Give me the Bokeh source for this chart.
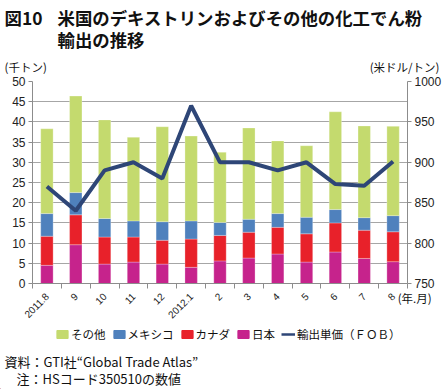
from math import pi
from bokeh.plotting import figure
from bokeh.layouts import column
from bokeh.models import (Range1d, LinearAxis, FixedTicker, Label, Legend,
                          LegendItem, ColumnDataSource)
from bokeh.embed import file_html
from bokeh.resources import INLINE

# ---- data ----
months = ["2011.8", "9", "10", "11", "12", "2012.1", "2", "3", "4", "5", "6", "7", "8"]
japan = [4.5, 9.6, 4.8, 5.3, 4.8, 4.0, 5.6, 6.3, 7.3, 5.3, 7.8, 6.2, 5.4]
canada = [7.2, 7.4, 6.7, 6.2, 5.9, 7.0, 6.3, 6.4, 6.6, 7.0, 7.2, 7.0, 7.4]
mexico = [5.6, 5.5, 4.6, 4.0, 4.6, 4.5, 3.2, 3.2, 3.4, 4.1, 3.3, 3.1, 4.0]
other = [21.0, 23.9, 24.4, 20.7, 23.5, 21.0, 17.4, 22.6, 18.0, 17.7, 24.2, 22.7, 22.1]
price = [870, 840, 890, 900, 880, 970, 900, 900, 890, 900, 873, 871, 901]
left_ticks = list(range(0, 51, 5))
right_ticks = list(range(750, 1001, 50))
series_names = ["その他", "メキシコ", "カナダ", "日本", "輸出単価（ＦＯＢ）"]

C_OTHER, C_MEX, C_CAN, C_JPN, C_LINE = "#C4DA6E", "#4F81BD", "#E8212A", "#C6238C", "#2E4677"
JP = "Noto Sans CJK JP"
NUM = "Liberation Sans"
GRAY = "#8C8C8C"

W, H = 444, 389
TOP_H = 74                 # title figure
FL, FW = 32, 376
FR = W - FL - FW
MT, FH, MB = 7, 202, 42    # main figure borders / frame
MAIN_H = MT + FH + MB
BOT_H = H - TOP_H - MAIN_H


def no_align(f):
    try:
        f.frame_align = False
    except Exception:
        pass


def text_fig(h):
    f = figure(width=W, height=h, x_range=Range1d(0, W), y_range=Range1d(0, h),
               output_backend="svg", toolbar_location=None, title=None,
               x_axis_location=None, y_axis_location=None,
               min_border=0, min_border_left=0, min_border_right=0,
               min_border_top=0, min_border_bottom=0)
    f.outline_line_color = None
    f.background_fill_color = "white"
    f.border_fill_color = "white"
    f.grid.visible = False
    f.axis.visible = False
    no_align(f)
    return f


def txt(f, h, cx, cy, s, size, bold=False, align="left", baseline="top"):
    f.add_layout(Label(x=cx, y=h - cy, x_units="screen", y_units="screen", text=s,
                       text_font=JP, text_font_size=size, text_baseline=baseline,
                       text_align=align, text_color="#111111",
                       text_font_style="bold" if bold else "normal"))


# ---------------- top: titles ----------------
top = text_fig(TOP_H)
txt(top, TOP_H, 4, 4, "図10", "17.4px", bold=True)
txt(top, TOP_H, 57, 4, "米国のデキストリンおよびその他の化工でん粉", "17.4px", bold=True)
txt(top, TOP_H, 57, 26, "輸出の推移", "17.4px", bold=True)
txt(top, TOP_H, 4, TOP_H, "(千トン)", "11.5px", baseline="bottom")
txt(top, TOP_H, 439, TOP_H, "(米ドル/トン)", "11.5px", align="right", baseline="bottom")

# ---------------- main chart ----------------
x = list(range(len(months)))
src = ColumnDataSource(dict(x=x, japan=japan, canada=canada, mexico=mexico,
                            other=other, price=price))

p = figure(width=W, height=MAIN_H, x_range=Range1d(-0.5, len(months) - 0.5),
           y_range=Range1d(0, 50), output_backend="svg", toolbar_location=None,
           title=None, min_border_left=FL, min_border_right=FR,
           min_border_top=MT, min_border_bottom=MB)
p.outline_line_color = None
no_align(p)
p.extra_y_ranges = {"price": Range1d(750, 1000)}

bars = p.vbar_stack(["japan", "canada", "mexico", "other"], x="x", width=0.43,
                    color=[C_JPN, C_CAN, C_MEX, C_OTHER], source=src,
                    line_color="white", line_alpha=0.35, line_width=0.8)
ln = p.line("x", "price", source=src, y_range_name="price",
            line_color=C_LINE, line_width=4)

p.xgrid.visible = False
p.ygrid.ticker = FixedTicker(ticks=left_ticks)
p.ygrid.grid_line_color = "#A6A6A6"


def style_y(ax):
    ax.axis_line_color = GRAY
    ax.major_tick_line_color = GRAY
    ax.major_tick_in = 0
    ax.major_tick_out = 4
    ax.minor_tick_line_color = None
    ax.major_label_standoff = 3
    ax.major_label_text_font = NUM
    ax.major_label_text_font_size = "12px"
    ax.major_label_text_color = "#222222"


ya = p.yaxis[0]
ya.ticker = FixedTicker(ticks=left_ticks)
style_y(ya)

ra = LinearAxis(y_range_name="price", ticker=FixedTicker(ticks=right_ticks))
style_y(ra)
p.add_layout(ra, "right")

xa = p.xaxis[0]
xa.ticker = FixedTicker(ticks=x, minor_ticks=[i - 0.5 for i in range(len(months) + 1)])
xa.major_label_overrides = {i: m for i, m in enumerate(months)}
xa.major_label_orientation = pi / 4
xa.major_tick_in = 0
xa.major_tick_out = 0
xa.minor_tick_in = 0
xa.minor_tick_out = 5
xa.minor_tick_line_color = GRAY
xa.axis_line_color = GRAY
xa.major_label_standoff = 6
xa.major_label_text_font = NUM
xa.major_label_text_font_size = "10px"
xa.major_label_text_color = "#222222"

# unit label of the category axis, at the right end of the axis
unit_tick = len(months) - 0.55
ua = LinearAxis(ticker=FixedTicker(ticks=[unit_tick]))
ua.major_label_overrides = {unit_tick: "\u3000\u2002(年.月)"}
ua.axis_line_color = None
ua.major_tick_line_color = None
ua.minor_tick_line_color = None
ua.major_tick_out = 0
ua.major_label_standoff = -35
ua.major_label_text_font = JP
ua.major_label_text_font_size = "11.5px"
ua.major_label_text_color = "#111111"
p.add_layout(ua, "below")

# ---------------- bottom: legend + notes ----------------
bot = text_fig(BOT_H)
cols = [C_OTHER, C_MEX, C_CAN, C_JPN]
items = []
for name, c in zip(series_names[:4], cols):
    r = bot.vbar(x=[-100], top=[0.5], width=0.1, color=c)
    items.append(LegendItem(label=name, renderers=[r]))
rl = bot.line(x=[-100, -90], y=[0.5, 0.5], line_color=C_LINE, line_width=2.5)
items.append(LegendItem(label=series_names[4], renderers=[rl]))

legend = Legend(items=items, orientation="horizontal", location=(55, 47))
legend.glyph_width = 14
legend.glyph_height = 10
legend.label_standoff = 2
legend.spacing = 6
legend.padding = 0
legend.margin = 0
legend.border_line_color = None
legend.background_fill_alpha = 0
legend.label_text_font = JP
legend.label_text_font_size = "11.5px"
legend.label_height = 12
legend.label_text_color = "#111111"
bot.add_layout(legend)

txt(bot, BOT_H, 4, 26, "資料：GTI社“Global Trade Atlas”", "13px")
txt(bot, BOT_H, 16, 43, "注：HSコード350510の数値", "13px")

layout = column(top, p, bot, spacing=0)
open("out.html", "w").write(file_html(layout, INLINE))
